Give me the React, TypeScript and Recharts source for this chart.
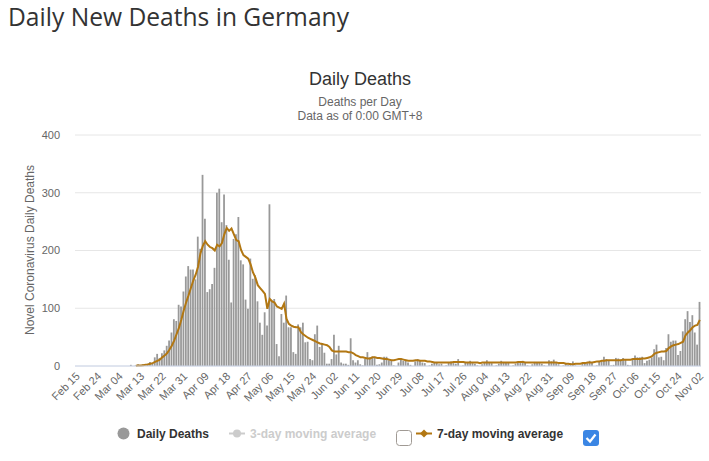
import { Bar, CartesianGrid, ComposedChart, Line, XAxis, YAxis } from "recharts";

// Day-by-day categories, Feb 15 .. Nov 02 (2020)
const MONTHS: [string, number, number][] = [
  ["Feb", 15, 29], ["Mar", 1, 31], ["Apr", 1, 30], ["May", 1, 31], ["Jun", 1, 30],
  ["Jul", 1, 31], ["Aug", 1, 31], ["Sep", 1, 30], ["Oct", 1, 31], ["Nov", 1, 2],
];
const DATES: string[] = MONTHS.flatMap(([m, from, to]) =>
  Array.from({ length: to - from + 1 }, (_, k) => `${m} ${String(from + k).padStart(2, "0")}`)
);

const TICK_LABELS = [
  "Feb 15", "Feb 24", "Mar 04", "Mar 13", "Mar 22", "Mar 31", "Apr 09", "Apr 18", "Apr 27",
  "May 06", "May 15", "May 24", "Jun 02", "Jun 11", "Jun 20", "Jun 29", "Jul 08", "Jul 17",
  "Jul 26", "Aug 04", "Aug 13", "Aug 22", "Aug 31", "Sep 09", "Sep 18", "Sep 27", "Oct 06",
  "Oct 15", "Oct 24", "Nov 02",
];

const DAILY_DEATHS: number[] = [
  // Feb 15-29
  0, 0, 0, 0, 0, 0, 0, 0, 0, 0, 0, 0, 0, 0, 0,
  // Mar
  0, 0, 0, 0, 0, 0, 0, 0, 2, 0, 1, 3, 0, 3, 1, 4, 7, 4, 15, 21, 14, 22, 27, 35, 44, 58, 81, 78, 106, 103, 129,
  // Apr
  155, 173, 167, 167, 150, 224, 203, 331, 255, 128, 133, 142, 170, 300, 307, 249, 297, 244, 184, 110,
  220, 228, 258, 183, 176, 115, 99, 186, 151, 157,
  // May
  112, 75, 54, 93, 70, 280, 113, 116, 38, 17, 90, 75, 122, 67, 67, 24, 21, 72, 67, 75,
  41, 42, 12, 10, 55, 70, 33, 39, 23, 4, 4,
  // Jun
  12, 54, 20, 35, 6, 4, 4, 2, 48, 10, 6, 10, 3, 1, 12, 24, 15, 16, 16, 2, 3, 6, 16, 16, 10, 9, 1, 0, 6, 12,
  // Jul
  9, 10, 6, 2, 0, 8, 12, 10, 6, 5, 0, 1, 4, 6, 6, 3, 4, 0, 1, 6, 8, 5, 4, 12, 0, 1, 7, 6, 9, 5, 4,
  // Aug
  1, 0, 3, 7, 10, 6, 5, 0, 1, 4, 9, 7, 5, 6, 0, 1, 4, 8, 6, 9, 5, 1, 0, 3, 7, 5, 6, 4, 1, 0, 10,
  // Sep
  8, 11, 5, 3, 0, 1, 4, 2, 5, 8, 1, 0, 0, 4, 6, 5, 9, 7, 0, 1, 9, 8, 16, 12, 9, 1, 2, 14, 13, 11,
  // Oct
  14, 12, 2, 1, 11, 18, 15, 15, 16, 5, 9, 11, 15, 29, 37, 15, 16, 10, 31, 55, 42, 44, 44, 19, 26, 60,
  81, 95, 76, 88, 58,
  // Nov
  37, 111,
];

const MOVING_AVG_7: (number | null)[] = [
  // Feb 15-29
  null, null, null, null, null, null, null, null, null, null, null, null, null, null, null,
  // Mar
  null, null, null, null, null, null, null, null, null, null,
  0.5, 1, 1, 1.5, 2, 2.5, 4, 5, 7, 9, 11, 15, 18, 22, 28, 35, 44, 55, 66, 80, 96,
  // Apr
  110, 122, 135, 148, 158, 172, 195, 208, 216, 210, 206, 204, 200, 210, 207, 213, 228, 239, 234, 238,
  228, 218, 216, 201, 192, 189, 186, 176, 162, 153,
  // May
  140, 135, 130, 125, 99, 116, 112, 110, 103, 101, 99, 108, 82, 73, 70, 68, 67, 67, 59, 55,
  52, 49, 47, 45, 43, 41, 39, 38, 37, 36, 33,
  // Jun
  27, 25, 25, 25, 25, 25, 25, 24, 24, 22, 19, 17, 15, 15, 14, 13, 13, 15, 15, 14, 14, 13, 12, 12, 11, 10, 10, 11, 12, 12,
  // Jul
  11, 10, 9, 9, 9, 10, 10, 9, 9, 9, 8, 8, 7, 6, 6, 6, 6, 6, 6, 6, 6, 7, 7, 7, 7, 7, 6, 6, 6, 6, 6,
  // Aug
  6, 5, 6, 6, 6, 6, 6, 6, 6, 6, 6, 6, 6, 6, 6, 6, 6, 7, 7, 7, 6, 6, 6, 6, 6, 6, 6, 6, 6, 6, 6,
  // Sep
  6, 6, 6, 5, 5, 5, 4, 4, 3, 3, 4, 4, 4, 5, 5, 6, 6, 6, 7, 8, 8, 9, 9, 10, 10, 10, 10, 10, 10, 10,
  // Oct
  11, 11, 11, 11, 12, 12, 12, 12, 13, 13, 14, 15, 17, 21, 23, 24, 25, 25, 26, 31, 34, 36, 37, 38, 40, 42,
  53, 58, 62, 67, 70,
  // Nov
  71, 80,
];

const Y_TICKS = [0, 100, 200, 300, 400];

const data = DATES.map((date, i) => ({ date, deaths: DAILY_DEATHS[i], ma7: MOVING_AVG_7[i] }));

const FONT = '"Liberation Sans", Arial, Helvetica, sans-serif';
const BAR_COLOR = "#999999";
const LINE_COLOR = "#b27712";

function DateTick({ x, y, payload }: any) {
  return (
    <g transform={`translate(${x + 1.5},${y})`}>
      <text x={0} y={0} dy={4} textAnchor="end" transform="rotate(-45)" fill="#666666" fontSize={11} fontFamily={FONT}>
        {payload.value}
      </text>
    </g>
  );
}

export default function App() {
  return (
    <div style={{ position: "absolute", left: 0, top: 0, width: 709, height: 461, background: "#fff" }}>
      <ComposedChart width={709} height={461} data={data} margin={{ top: 135, right: 8, left: 0, bottom: 0 }}>
        <CartesianGrid vertical={false} stroke="#e6e6e6" />
        <XAxis
          dataKey="date"
          ticks={TICK_LABELS}
          interval={0}
          height={95}
          tick={<DateTick />}
          tickLine={false}
          stroke="#ccd6eb"
        />
        <YAxis
          domain={[0, 400]}
          ticks={Y_TICKS}
          width={75}
          axisLine={false}
          tickLine={false}
          tickSize={0}
          tickMargin={15}
          tick={{ fill: "#666666", fontSize: 11, fontFamily: FONT }}
        />
        <Bar dataKey="deaths" fill={BAR_COLOR} barSize={1.8} isAnimationActive={false} />
        <Line
          dataKey="ma7"
          type="linear"
          stroke={LINE_COLOR}
          strokeWidth={2}
          dot={false}
          activeDot={false}
          isAnimationActive={false}
        />
      </ComposedChart>

      <svg width={709} height={461} style={{ position: "absolute", left: 0, top: 0, pointerEvents: "none" }}>
        <text x={8} y={26} fontFamily='"Open Sans", sans-serif' fontSize={24.6} fill="#333333">
          Daily New Deaths in Germany
        </text>
        <text x={360} y={85} textAnchor="middle" fontFamily={FONT} fontSize={18} fill="#333333">
          Daily Deaths
        </text>
        <text x={360} y={106} textAnchor="middle" fontFamily={FONT} fontSize={12} fill="#666666">
          Deaths per Day
        </text>
        <text x={360} y={120} textAnchor="middle" fontFamily={FONT} fontSize={12} fill="#666666">
          Data as of 0:00 GMT+8
        </text>
        <text
          x={0}
          y={0}
          transform="translate(33.5,250) rotate(-90)"
          textAnchor="middle"
          fontFamily={FONT}
          fontSize={12}
          fill="#666666"
        >
          Novel Coronavirus Daily Deaths
        </text>

        {/* legend */}
        <g fontFamily={FONT} fontSize={12} fontWeight="bold">
          <circle cx={123.5} cy={433.5} r={6} fill={BAR_COLOR} />
          <text x={137} y={438} fill="#333333">Daily Deaths</text>

          <line x1={229} x2={245} y1={433.5} y2={433.5} stroke="#cccccc" strokeWidth={2} />
          <circle cx={237} cy={433.5} r={4} fill="#cccccc" />
          <text x={250} y={438} fill="#cccccc">3-day moving average</text>
          <rect x={396.5} y={430.5} width={15} height={15} rx={3} fill="#ffffff" stroke="#a09a94" />

          <line x1={416} x2={432} y1={433.5} y2={433.5} stroke={LINE_COLOR} strokeWidth={2} />
          <path d="M424 429.5 L428 433.5 L424 437.5 L420 433.5 Z" fill={LINE_COLOR} />
          <text x={437} y={438} fill="#333333">7-day moving average</text>
          <rect x={583} y={430} width={16} height={16} rx={3} fill="#3b86e4" />
          <path d="M586.5 438 L590 441.5 L595.5 434.5" fill="none" stroke="#ffffff" strokeWidth={2.2} />
        </g>
      </svg>
    </div>
  );
}
